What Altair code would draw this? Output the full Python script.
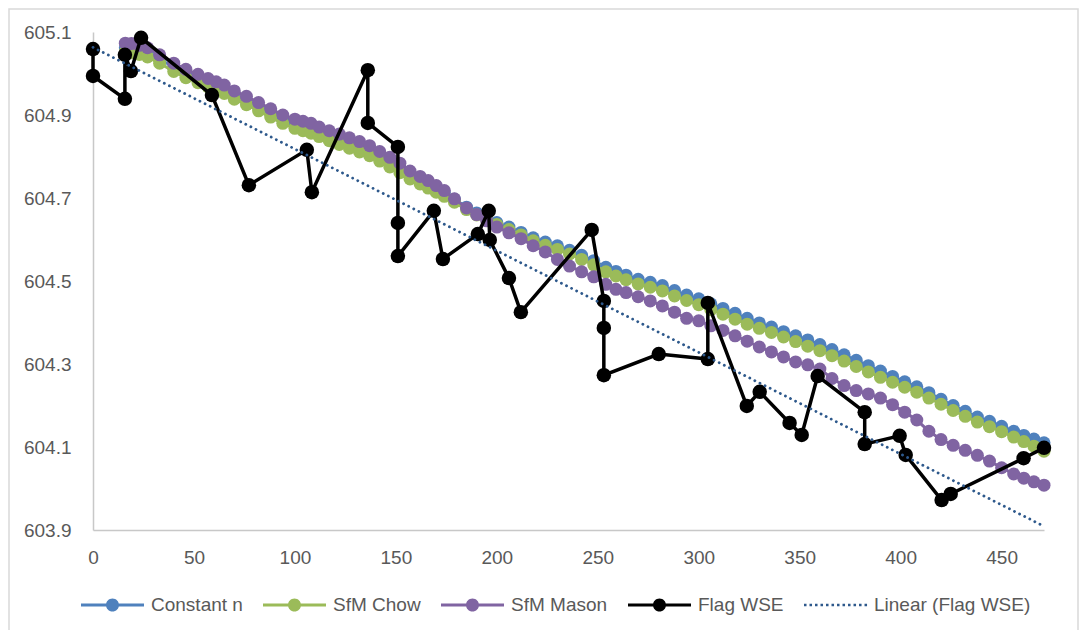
import altair as alt
import pandas as pd

# ---------------- data ----------------
stations = [16, 19, 23, 27, 33, 40, 46, 52, 57, 61, 65, 70, 76, 82, 88, 94, 100, 104, 108, 112,
            117, 122, 127, 132, 137, 142, 147, 152, 157, 162, 166, 170, 174, 179, 185, 190, 195, 200,
            206, 212, 218, 224, 230, 236, 242, 248, 254, 259, 264, 270, 276, 282, 288, 294, 300, 306,
            312, 318, 324, 330, 336, 342, 348, 354, 360, 366, 372, 378, 384, 390, 396, 402, 408, 414,
            420, 426, 432, 438, 444, 450, 456, 461, 466, 471]

constant_n = [605.062, 605.060, 605.056, 605.050, 605.035, 605.015, 605.000, 604.988, 604.978, 604.970,
              604.962, 604.948, 604.935, 604.920, 604.905, 604.890, 604.878, 604.872, 604.866, 604.858,
              604.849, 604.840, 604.831, 604.822, 604.813, 604.800, 604.786, 604.772, 604.756, 604.744,
              604.734, 604.724, 604.713, 604.697, 604.678, 604.664, 604.652, 604.641, 604.630, 604.617,
              604.604, 604.594, 604.585, 604.574, 604.562, 604.549, 604.533, 604.523, 604.514, 604.504,
              604.497, 604.489, 604.477, 604.466, 604.457, 604.445, 604.434, 604.422, 604.410, 604.399,
              604.389, 604.378, 604.368, 604.358, 604.347, 604.335, 604.322, 604.309, 604.296, 604.283,
              604.270, 604.257, 604.245, 604.231, 604.215, 604.200, 604.186, 604.172, 604.162, 604.150,
              604.138, 604.128, 604.119, 604.110]

sfm_chow = [605.052, 605.050, 605.046, 605.040, 605.025, 605.005, 604.990, 604.978, 604.968, 604.960,
            604.952, 604.938, 604.925, 604.910, 604.895, 604.880, 604.868, 604.862, 604.856, 604.848,
            604.838, 604.829, 604.820, 604.811, 604.802, 604.789, 604.775, 604.761, 604.746, 604.734,
            604.724, 604.714, 604.704, 604.690, 604.672, 604.659, 604.647, 604.636, 604.624, 604.611,
            604.597, 604.586, 604.576, 604.565, 604.552, 604.539, 604.522, 604.512, 604.503, 604.493,
            604.485, 604.476, 604.464, 604.453, 604.443, 604.431, 604.420, 604.408, 604.396, 604.386,
            604.376, 604.365, 604.354, 604.343, 604.332, 604.320, 604.307, 604.294, 604.281, 604.268,
            604.256, 604.244, 604.232, 604.218, 604.203, 604.188, 604.174, 604.160, 604.149, 604.137,
            604.124, 604.113, 604.102, 604.090]

sfm_mason = [605.073, 605.072, 605.068, 605.062, 605.045, 605.025, 605.010, 604.998, 604.988, 604.980,
             604.972, 604.958, 604.945, 604.930, 604.915, 604.900, 604.890, 604.885, 604.880, 604.871,
             604.862, 604.854, 604.845, 604.836, 604.826, 604.812, 604.798, 604.784, 604.765, 604.752,
             604.742, 604.730, 604.718, 604.698, 604.676, 604.660, 604.645, 604.630, 604.616, 604.602,
             604.585, 604.570, 604.552, 604.536, 604.522, 604.510, 604.492, 604.480, 604.472, 604.462,
             604.452, 604.440, 604.425, 604.410, 604.404, 604.392, 604.381, 604.368, 604.355, 604.341,
             604.329, 604.317, 604.305, 604.298, 604.288, 604.265, 604.248, 604.236, 604.228, 604.218,
             604.202, 604.184, 604.165, 604.138, 604.118, 604.104, 604.092, 604.080, 604.066, 604.050,
             604.035, 604.025, 604.016, 604.008]

flag_x = [0, 0, 15.8, 15.8, 18.8, 23.8, 58.9, 77.2, 105.9, 108.4, 136.1, 136.1, 151, 151, 151,
          168.8, 173.3, 190.6, 196, 196.5, 206, 211.9, 247, 253, 253, 253, 280.2, 304.5, 304.5,
          323.8, 330.2, 345, 351, 358.9, 382.2, 382.2, 399.5, 402.5, 420.3, 424.8, 460.9, 471]
flag_y = [605.059, 604.994, 604.939, 605.045, 605.006, 605.086, 604.948, 604.731, 604.816, 604.714,
          605.008, 604.881, 604.823, 604.640, 604.560, 604.669, 604.553, 604.613, 604.669, 604.599,
          604.507, 604.425, 604.623, 604.452, 604.387, 604.273, 604.324, 604.312, 604.447, 604.199,
          604.233, 604.158, 604.129, 604.271, 604.184, 604.107, 604.127, 604.081, 603.972, 603.987,
          604.073, 604.098]

# linear trend line of Flag WSE, end points as drawn
trend_x = [0, 471]
trend_y = [605.063, 603.909]

series_names = ["Constant n", "SfM Chow", "SfM Mason", "Flag WSE", "Linear (Flag WSE)"]
series_colors = ["#4F81BD", "#9BBB59", "#8064A2", "#000000", "#2E598C"]
x_ticks = [0, 50, 100, 150, 200, 250, 300, 350, 400, 450]
y_ticks = [603.9, 604.1, 604.3, 604.5, 604.7, 604.9, 605.1]

# ---------------- tables ----------------
rows = []
for name, vals in [("Constant n", constant_n), ("SfM Chow", sfm_chow), ("SfM Mason", sfm_mason)]:
    for i, (xv, yv) in enumerate(zip(stations, vals)):
        rows.append({"series": name, "x": xv, "y": yv, "idx": i})
for i, (xv, yv) in enumerate(zip(flag_x, flag_y)):
    rows.append({"series": "Flag WSE", "x": xv, "y": yv, "idx": i})
df = pd.DataFrame(rows)
trend_df = pd.DataFrame({"x": trend_x, "y": trend_y})

FONT = "Liberation Sans"
GREY = "#595959"

x_scale = alt.Scale(domain=[0, 471], nice=False, zero=False)
y_scale = alt.Scale(domain=[603.9, 605.1], nice=False, zero=False)
x_axis = alt.Axis(title=None, values=x_ticks, grid=False, ticks=False, tickSize=0,
                  labelFontSize=19, labelColor=GREY, labelFont=FONT, labelPadding=18,
                  domainColor="#C8C8C8", domainWidth=1.5, labelFlush=False)
y_axis = alt.Axis(title=None, values=y_ticks, format=".1f", grid=False, ticks=False, tickSize=0,
                  labelFontSize=19, labelColor=GREY, labelFont=FONT, labelPadding=22,
                  domainColor="#C8C8C8", domainWidth=1.5, labelFlush=False)
x_enc = alt.X("x:Q", scale=x_scale, axis=x_axis)
y_enc = alt.Y("y:Q", scale=y_scale, axis=y_axis)

# legend symbols: line with a dot, and a dotted line
line_dot = ("M-1,-0.075H2V0.075H-1Z "
            "M0.19,0A0.31,0.31 0 1,1 0.81,0A0.31,0.31 0 1,1 0.19,0Z")
dots = " ".join(f"M{-1 + i * 0.262:.3f},-0.06h0.12v0.12h-0.12Z" for i in range(12))
shape_range = [line_dot, line_dot, line_dot, line_dot, dots]

legend = alt.Legend(title=None, orient="none", legendX=-12, legendY=552, direction="horizontal",
                    columns=5, symbolSize=1764, symbolStrokeWidth=0, labelOffset=28,
                    columnPadding=20, labelFontSize=19, labelColor=GREY, labelFont=FONT,
                    padding=0, symbolOpacity=1, labelLimit=400)

# ---------------- layers ----------------
frame = alt.Chart(alt.Data(values=[{"f": 0}])).mark_rect(
    fillOpacity=0, stroke="#D9D9D9", strokeWidth=1.5
).encode(x=alt.value(-84), x2=alt.value(985), y=alt.value(-23), y2=alt.value(620))

layers = [frame]
styles = {
    "Constant n": ("#4F81BD", 3, 169),
    "SfM Chow": ("#9BBB59", 3, 169),
    "SfM Mason": ("#8064A2", 3, 169),
    "Flag WSE": ("#000000", 3.5, 210),
}
for name in ["Constant n", "SfM Chow", "SfM Mason", "Flag WSE"]:
    col, lw, ms = styles[name]
    sub = df[df["series"] == name]
    base = alt.Chart(sub)
    layers.append(base.mark_line(color=col, strokeWidth=lw).encode(x=x_enc, y=y_enc, order="idx:Q"))
    layers.append(base.mark_point(filled=True, color=col, size=ms, opacity=1).encode(x=x_enc, y=y_enc))

trend = alt.Chart(trend_df).mark_line(
    color="#2E598C", strokeDash=[0.1, 5.6], strokeCap="round", strokeWidth=2.8
).encode(x=x_enc, y=y_enc)
layers.append(trend)

legend_layer = alt.Chart(df).mark_point(filled=True, size=0, opacity=1).encode(
    x=x_enc, y=y_enc,
    color=alt.Color("series:N", scale=alt.Scale(domain=series_names, range=series_colors), legend=legend),
    shape=alt.Shape("series:N", scale=alt.Scale(domain=series_names, range=shape_range), legend=legend),
)
layers.append(legend_layer)

chart = alt.layer(*layers).properties(
    width=951, height=498,
    autosize=alt.AutoSizeParams(type="none"),
    padding={"left": 85, "top": 24, "right": 36, "bottom": 100},
).configure(font=FONT).configure_view(strokeWidth=0)

chart.save("out.html", embed_options={"renderer": "svg", "actions": False})
